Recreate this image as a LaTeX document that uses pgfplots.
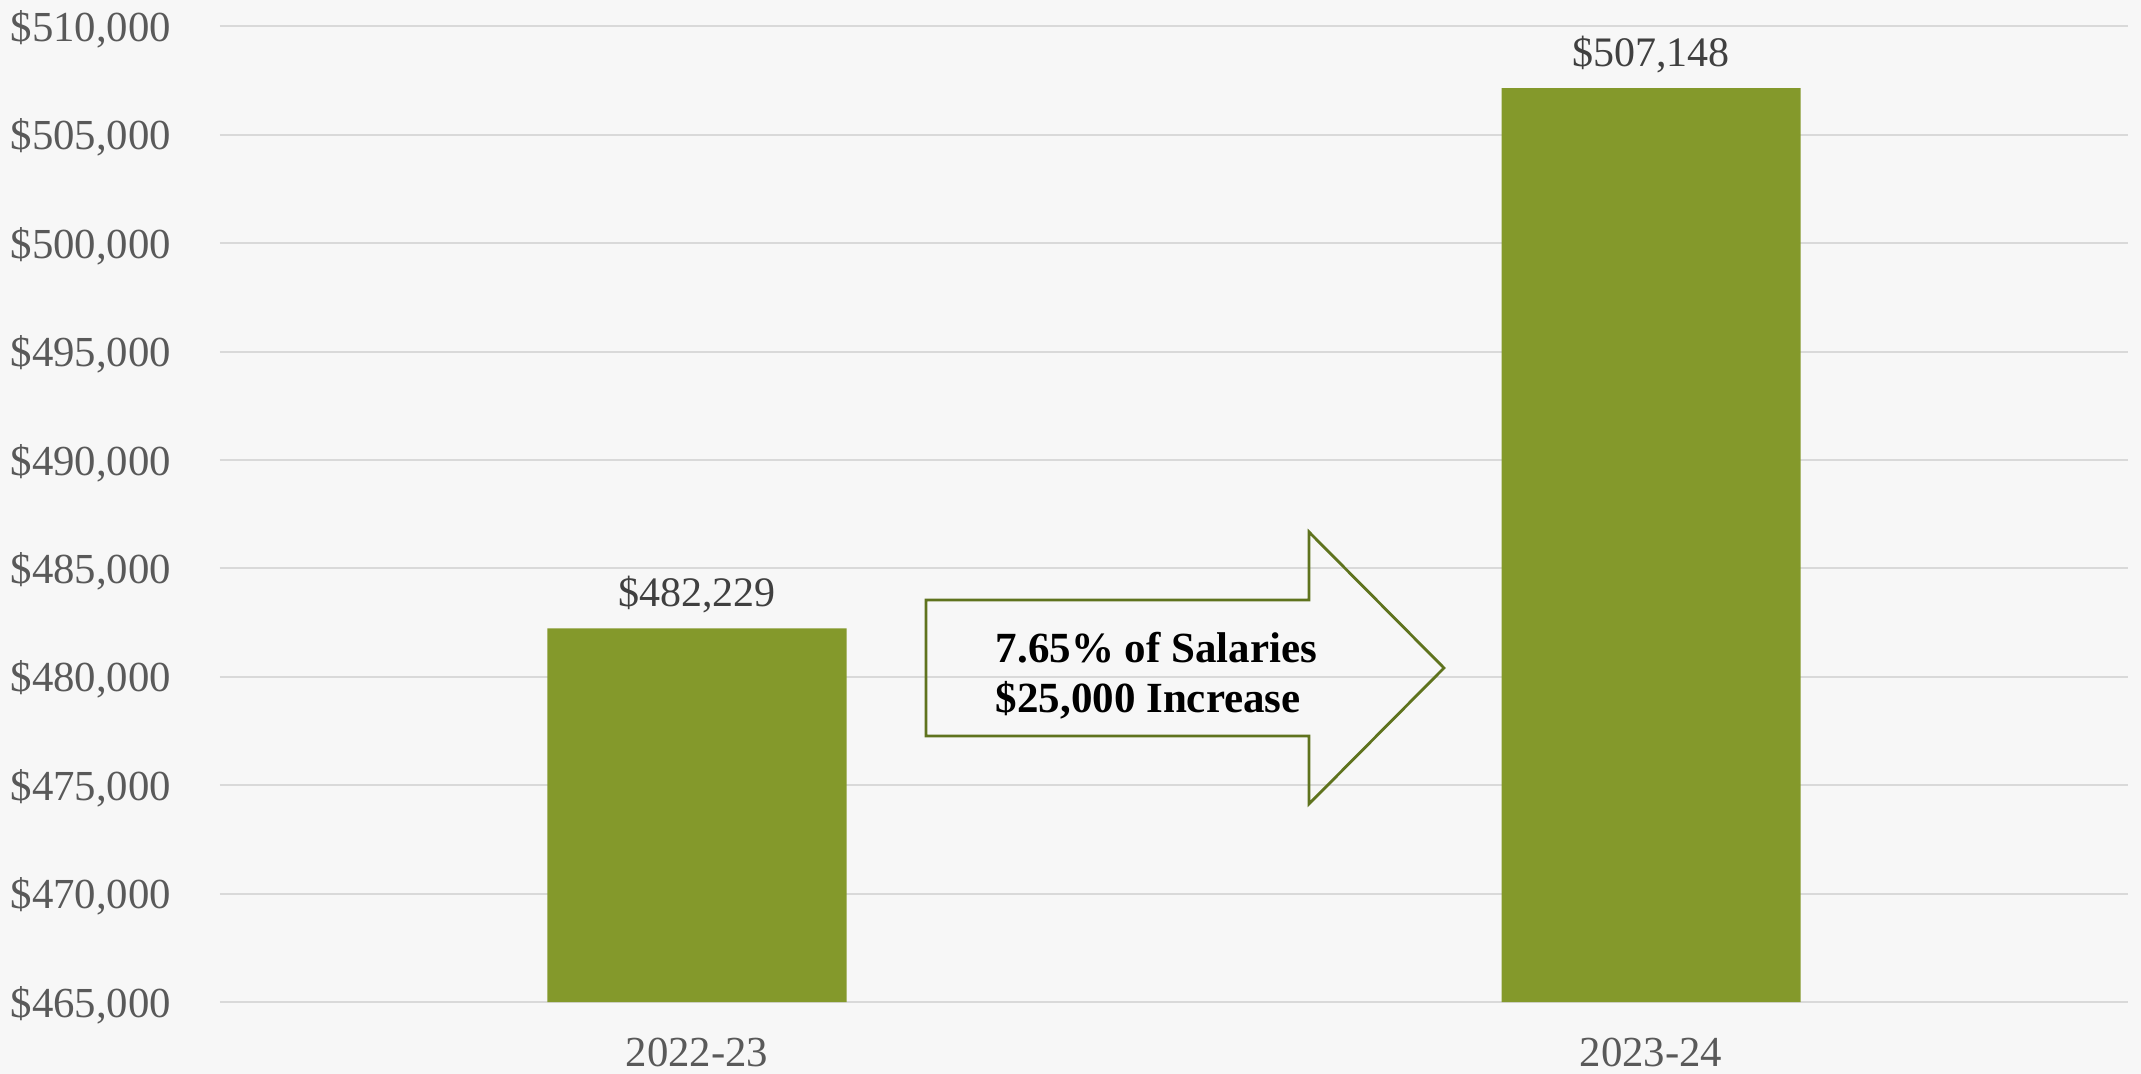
\documentclass[border=0pt]{standalone}
\usepackage{fontspec}
\setmainfont{Liberation Serif}
\usepackage{pgfplots}
\pgfplotsset{compat=1.18}
\definecolor{barolive}{RGB}{132,153,43}
\definecolor{arrowolive}{RGB}{95,115,30}
\definecolor{bgpaper}{RGB}{247,247,247}
\definecolor{ticktext}{RGB}{89,89,89}
\definecolor{valtext}{RGB}{64,64,64}
\definecolor{gridgray}{RGB}{217,217,217}

\begin{document}
\begin{tikzpicture}
% fondo y caja de la figura (1 px = 0.25bp)
\fill[bgpaper, use as bounding box] (-55bp,-18bp) rectangle (480.25bp,250.5bp);

\begin{axis}[
    scale only axis,
    width=477bp,
    height=243.9bp,
    ybar,
    bar width=74.75bp,
    xmin=-0.5, xmax=1.5,
    ymin=465000, ymax=510000,
    scaled y ticks=false,
    xtick={0,1},
    xticklabels={2022-23,2023-24},
    ytick={465000,470000,475000,480000,485000,490000,495000,500000,505000,510000},
    yticklabels={{\$465,000},{\$470,000},{\$475,000},{\$480,000},{\$485,000},{\$490,000},{\$495,000},{\$500,000},{\$505,000},{\$510,000}},
    major tick length=0pt,
    axis line style={draw=none},
    ymajorgrids,
    grid style={gridgray, line width=0.5bp},
    tick label style={font=\fontsize{10.7bp}{12bp}\selectfont, text=ticktext, inner sep=0pt},
    yticklabel style={anchor=base east, xshift=-12bp, yshift=-3.75bp},
    xticklabel style={anchor=base, yshift=-16bp},
    clip=false,
    nodes near coords,
    point meta=explicit symbolic,
    every node near coord/.append style={font=\fontsize{10.5bp}{12bp}\selectfont, text=valtext, anchor=base, yshift=5.4bp, inner sep=0pt},
]
    \addplot[fill=barolive, draw=none] coordinates {
        (0, 482229) [{\$482,229}]
        (1, 507148) [{\$507,148}]
    };

    % flecha de incremento
    \draw[arrowolive, line width=0.7bp, line join=miter]
        (axis cs:0.2400,483545) -- (axis cs:0.6415,483545)
        -- (axis cs:0.6415,486681) -- (axis cs:0.7830,480407)
        -- (axis cs:0.6415,474134) -- (axis cs:0.6415,477271)
        -- (axis cs:0.2400,477271) -- cycle;
    \node[anchor=base west, align=left, inner sep=0pt,
          font=\fontsize{10.75bp}{12.5bp}\selectfont\bfseries]
        at (axis cs:0.3124,478332) {7.65\% of Salaries\\\$25,000 Increase};
\end{axis}
\end{tikzpicture}
\end{document}
